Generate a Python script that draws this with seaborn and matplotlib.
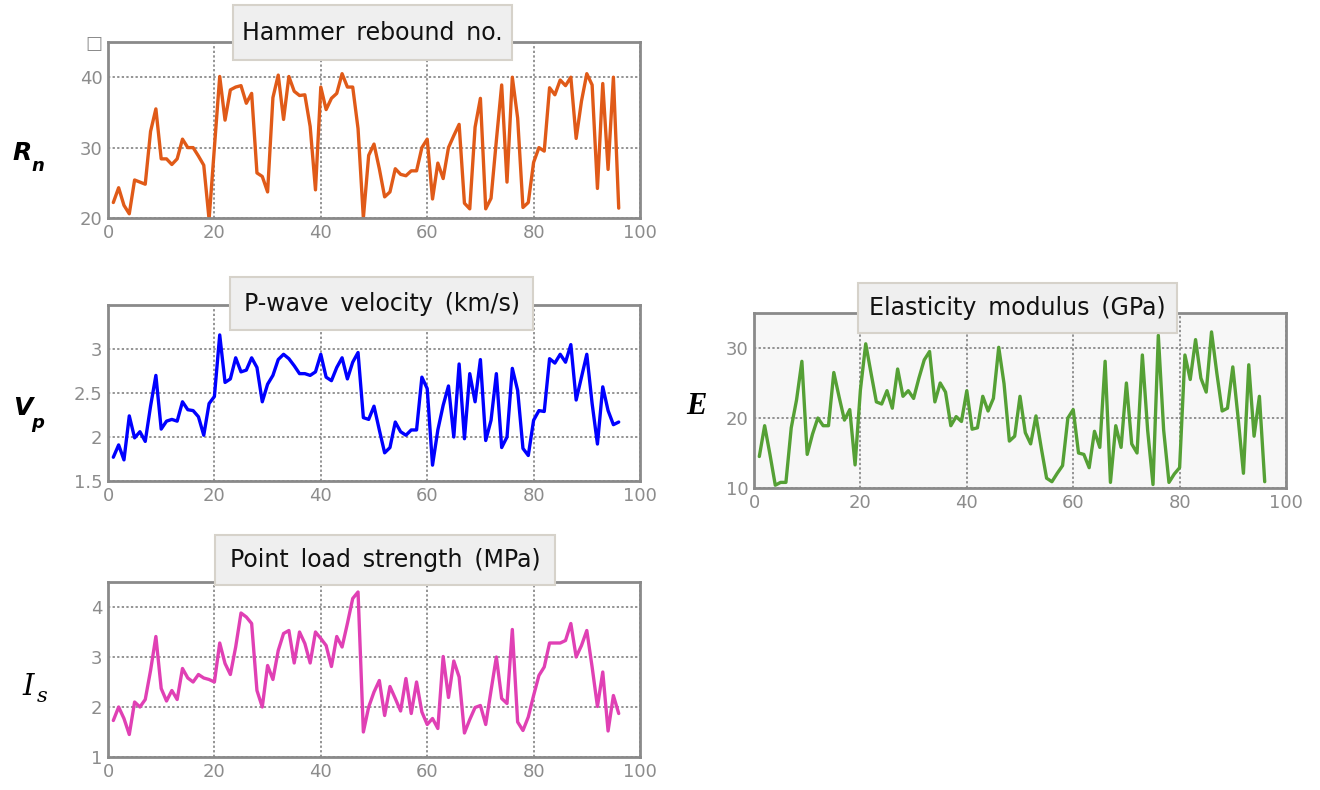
import numpy as np
import pandas as pd
import matplotlib
matplotlib.use("Agg")
import matplotlib.pyplot as plt
from matplotlib.patches import Rectangle
import seaborn as sns

# sample number 1..96
sample = list(range(1, 97))

hammer = [22.2, 24.3, 21.8, 20.6, 25.4, 25.1, 24.8, 32.3, 35.5, 28.4,
          28.4, 27.6, 28.4, 31.2, 30.0, 30.0, 28.8, 27.5, 19.8, 30.0,
          40.1, 33.9, 38.2, 38.6, 38.8, 36.3, 37.7, 26.4, 25.9, 23.7,
          37.1, 40.3, 34.0, 40.1, 38.0, 37.4, 37.5, 33.0, 24.0, 38.6,
          35.4, 37.0, 37.7, 40.5, 38.6, 38.6, 32.7, 20.0, 28.9, 30.5,
          27.0, 23.0, 23.7, 27.0, 26.2, 26.0, 26.7, 26.7, 30.0, 31.2,
          22.7, 27.8, 25.6, 30.0, 31.7, 33.3, 22.1, 21.3, 32.9, 37.0,
          21.3, 22.8, 31.0, 38.9, 25.1, 40.0, 34.2, 21.5, 22.2, 27.9,
          30.0, 29.5, 38.5, 37.5, 39.6, 38.8, 40.0, 31.3, 36.6, 40.5,
          38.9, 24.2, 39.1, 26.9, 40.0, 21.4]

pwave = [1.77, 1.91, 1.74, 2.24, 1.99, 2.06, 1.95, 2.35, 2.70, 2.09,
         2.18, 2.20, 2.18, 2.40, 2.31, 2.30, 2.23, 2.02, 2.38, 2.46,
         3.16, 2.62, 2.66, 2.90, 2.74, 2.76, 2.90, 2.79, 2.40, 2.60,
         2.70, 2.88, 2.94, 2.89, 2.81, 2.72, 2.72, 2.70, 2.74, 2.94,
         2.68, 2.64, 2.79, 2.90, 2.66, 2.85, 2.96, 2.22, 2.20, 2.35,
         2.08, 1.82, 1.88, 2.17, 2.06, 2.02, 2.08, 2.08, 2.68, 2.55,
         1.68, 2.08, 2.36, 2.58, 2.00, 2.83, 1.98, 2.72, 2.40, 2.88,
         1.96, 2.19, 2.72, 1.88, 2.00, 2.78, 2.53, 1.87, 1.79, 2.19,
         2.30, 2.29, 2.89, 2.84, 2.94, 2.85, 3.05, 2.42, 2.68, 2.94,
         2.38, 1.92, 2.57, 2.30, 2.14, 2.17]

point_load = [1.73, 2.00, 1.77, 1.45, 2.10, 2.00, 2.15, 2.73, 3.41, 2.37,
              2.12, 2.33, 2.15, 2.77, 2.58, 2.50, 2.65, 2.58, 2.55, 2.50,
              3.28, 2.87, 2.65, 3.20, 3.88, 3.80, 3.67, 2.33, 2.00, 2.83,
              2.55, 3.13, 3.47, 3.53, 2.88, 3.50, 3.27, 2.88, 3.50, 3.37,
              3.23, 2.81, 3.41, 3.20, 3.67, 4.17, 4.30, 1.50, 2.00, 2.30,
              2.53, 1.83, 2.41, 2.17, 1.92, 2.57, 1.87, 2.50, 1.90, 1.65,
              1.77, 1.57, 3.01, 2.19, 2.92, 2.60, 1.48, 1.75, 1.99, 2.03,
              1.65, 2.33, 3.00, 2.17, 2.07, 3.55, 1.70, 1.53, 1.80, 2.23,
              2.63, 2.80, 3.28, 3.28, 3.28, 3.33, 3.67, 3.00, 3.23, 3.53,
              2.80, 2.01, 2.70, 1.52, 2.23, 1.87]

elasticity = [14.5, 18.9, 14.8, 10.4, 10.8, 10.8, 18.6, 22.6, 28.1, 14.8,
              17.7, 20.0, 18.9, 18.9, 26.5, 23.0, 19.7, 21.2, 13.3, 24.0,
              30.6, 26.4, 22.3, 22.0, 23.9, 21.4, 27.0, 23.1, 23.9, 22.8,
              25.7, 28.3, 29.5, 22.3, 25.0, 23.7, 18.9, 20.2, 19.5, 23.9,
              18.4, 18.6, 23.1, 21.0, 22.8, 30.1, 24.9, 16.7, 17.4, 23.1,
              17.9, 16.3, 20.3, 15.7, 11.4, 10.9, 12.1, 13.2, 20.0, 21.2,
              15.0, 14.8, 12.9, 18.1, 15.8, 28.1, 10.8, 18.9, 15.8, 25.0,
              16.3, 15.0, 29.0, 18.2, 10.5, 31.8, 18.3, 10.8, 12.0, 12.9,
              29.0, 25.5, 31.2, 25.7, 23.7, 32.3, 26.4, 21.0, 21.4, 27.3,
              20.0, 12.1, 27.6, 17.4, 23.1, 10.9]

sns.set_theme(style="white")
plt.rcParams['font.family'] = ['DejaVu Sans']

fig = plt.figure(figsize=(13.2, 7.9), dpi=100)
W, H = 1320, 790


def make_axes(left, top, bottom, right):
    return fig.add_axes([left / W, 1 - bottom / H, (right - left) / W, (bottom - top) / H])


def title_box(text, x0, x1, y0, y1):
    # grey framed title box straddling the top of the panel (pixel coords)
    box = Rectangle((x0 / W, 1 - y1 / H), (x1 - x0) / W, (y1 - y0) / H,
                    transform=fig.transFigure, facecolor="#efefef",
                    edgecolor="#d6d2ca", linewidth=1.5, zorder=20)
    fig.add_artist(box)
    fig.text((x0 + x1) / 2 / W, 1 - (y0 + y1) / 2 / H, text, ha="center", va="center",
             fontsize=17, color="#111111", zorder=21)


def style(ax, data, color, ylim, yticks, yticklabels, bg="white"):
    df = pd.DataFrame({"x": sample, "y": data})
    sns.lineplot(data=df, x="x", y="y", ax=ax, color=color, lw=2.4)
    ax.set_facecolor(bg)
    ax.set_xlim(0, 100)
    ax.set_ylim(*ylim)
    ax.set_xticks([0, 20, 40, 60, 80, 100])
    ax.set_yticks(yticks)
    ax.set_yticklabels(yticklabels)
    ax.set_xlabel("")
    ax.set_ylabel("")
    ax.tick_params(axis="both", labelsize=13, labelcolor="#8c8c8c", length=0, pad=4)
    ax.grid(True, linestyle=(0, (1.5, 1.5)), color="#777777", linewidth=1.1)
    for sp in ax.spines.values():
        sp.set_color("#8a8a8a")
        sp.set_linewidth(2)


ax1 = make_axes(108, 42, 218, 640)
style(ax1, hammer, "#e05a18", (20, 45), [20, 30, 40, 45], ["20", "30", "40", "\u25a1"])
title_box("Hammer\u2002rebound\u2002no.", 233, 512, 5, 60)

ax2 = make_axes(108, 305, 481, 640)
style(ax2, pwave, "#0000ff", (1.5, 3.5), [1.5, 2, 2.5, 3], ["1.5", "2", "2.5", "3"])
title_box("P-wave\u2002velocity\u2002(km/s)", 230, 533, 277, 330)

ax3 = make_axes(108, 582, 757, 640)
style(ax3, point_load, "#e040b4", (1, 4.5), [1, 2, 3, 4], ["1", "2", "3", "4"])
title_box("Point\u2002load\u2002strength\u2002(MPa)", 215, 555, 535, 585)

ax4 = make_axes(754, 313, 488, 1286)
style(ax4, elasticity, "#55a035", (10, 35), [10, 20, 30], ["10", "20", "30"], bg="#f7f7f7")
title_box("Elasticity\u2002modulus\u2002(GPa)", 858, 1177, 283, 333)

# y labels drawn as figure text (bold italic with subscripts)
lab = dict(color="black", ha="left", va="baseline")
fig.text(12 / W, 1 - 160 / H, "R", fontsize=18, fontweight="bold", style="italic", **lab)
fig.text(31 / W, 1 - 171 / H, "n", fontsize=13, fontweight="bold", style="italic", **lab)
fig.text(13 / W, 1 - 415 / H, "V", fontsize=18, fontweight="bold", style="italic", **lab)
fig.text(31 / W, 1 - 428 / H, "p", fontsize=13, fontweight="bold", style="italic", **lab)
fig.text(686 / W, 1 - 414 / H, "E", fontsize=22, fontweight="bold", style="italic",
         family="Liberation Serif", **lab)
fig.text(22 / W, 1 - 695 / H, "I", fontsize=21, style="italic", family="DejaVu Serif", **lab)
fig.text(37 / W, 1 - 702 / H, "s", fontsize=15, style="italic", family="DejaVu Serif", **lab)

fig.savefig("out.png", dpi=100)
